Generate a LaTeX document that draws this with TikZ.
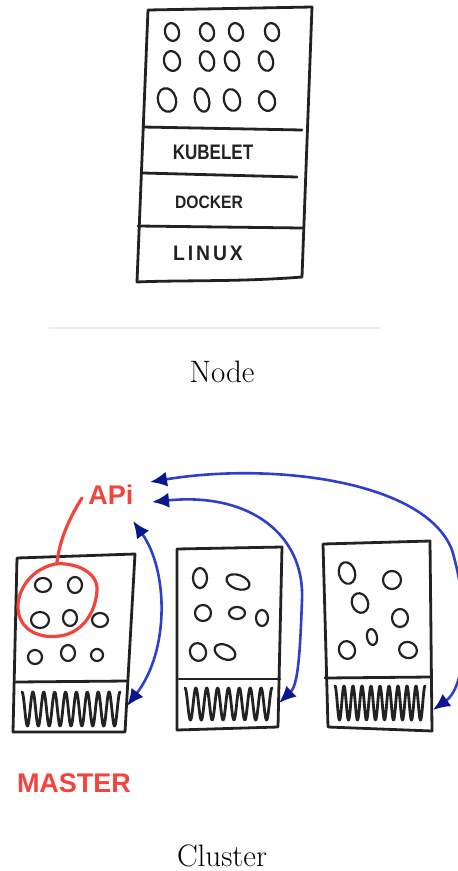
\documentclass[tikz,border=0pt]{standalone}
\usepackage{fontspec}
\newfontfamily\handfont{Liberation Sans}
\usetikzlibrary{arrows.meta}

\definecolor{ink}{HTML}{222222}
\definecolor{marker}{HTML}{F2433D}
\definecolor{wire}{HTML}{2E3FCC}
\definecolor{wirehead}{HTML}{0B178F}

% zig-zag scribble: x0, x1, y middle, amplitude, cycles (degrees), samples
\newcommand\scribble[6]{%
  \draw[hatch] plot[domain=0:#5, samples=#6, smooth]
    ({#1+(#2-#1)*(\x/#5)}, {#3-#4*cos(\x)});}

\begin{document}
\begin{tikzpicture}[x=1pt, y=-1pt, line cap=round, line join=round,
  pen/.style={draw=ink, line width=2.8pt},
  pod/.style={draw=ink, line width=2.2pt},
  hatch/.style={draw=ink, line width=2.8pt},
  hand/.style={text=ink, inner sep=0pt},
  redhand/.style={font=\handfont\bfseries\fontsize{27}{27}\selectfont, text=marker, inner sep=0pt},
  caption/.style={font=\fontsize{31}{31}\selectfont, text=black, inner sep=0pt},
  wire/.style={draw=wire, line width=2.6pt,
    {Latex[length=17pt,width=15pt,color=wirehead]}-{Latex[length=17pt,width=15pt,color=wirehead]}},
  redline/.style={draw=marker, line width=3.2pt}]
\useasboundingbox (0,0) rectangle (458,871);
\clip (0,0) rectangle (458,871);

% ---------- single node ----------
\draw[pen] (148,10) -- (312,7) -- (302,277) .. controls (240,282) and (180,280) .. (137,282) -- cycle;
\draw[pen] (143,127) -- (302,130);
\draw[pen] (143,173) -- (297,177);
\draw[pen] (138,226) -- (302,228);

% pods
\foreach \px/\py/\rx/\ry in {172/32/7/9, 207/32/7/9, 236/32/7/9, 272/32/7/9,
                             172/61/8/10, 207/61/7/10, 232/61/7/10, 266/61/7/10,
                             167/100/9/12, 202/100/7/12, 232/100/8/11, 267/101/8/10}
  \draw[pod] (\px,\py) ellipse [x radius=\rx pt, y radius=\ry pt, rotate=15];

\node[hand] (kubelet) at (213,152)
  {\scalebox{0.81}[1]{\handfont\bfseries\fontsize{21}{21}\selectfont KUBELET}};
\node[hand] (docker) at (209,202)
  {\scalebox{0.87}[1]{\handfont\bfseries\fontsize{18}{18}\selectfont DOCKER}};
\node[hand] (linux) at (208,253)
  {\scalebox{0.92}[1]{\handfont\bfseries\fontsize{21}{21}\selectfont\addfontfeature{LetterSpace=15}LINUX}};

% faint table edge
\draw[draw=black!8, line width=1.2pt] (49,328) -- (380,328);

\node[caption] (nodecap) at (222,372) {Node};

% ---------- cluster ----------
% master
\draw[pen] (17,558) -- (135,554) -- (125,732) -- (13,732) -- cycle;
\draw[pen] (16,682) -- (127,681);
% worker 1
\draw[pen] (177,549) -- (282,547) -- (278,727) -- (177,730) -- cycle;
\draw[pen] (179,679) -- (280,679);
% worker 2
\draw[pen] (323,544) -- (430,541) -- (432,731) -- (328,727) -- cycle;
\draw[pen] (325,678) -- (431,677);

% pods on the master
\foreach \px/\py/\rx/\ry/\rt in {43/585/8/7/0, 75/585/7/8/0, 40/620/9/8/0, 70/618/7/8/0,
                                 100/620/8/7/0, 35/657/7/7/0, 68/653/7/8/0, 97/655/6/6/0}
  \draw[pod] (\px,\py) ellipse [x radius=\rx pt, y radius=\ry pt, rotate=\rt];
% pods on worker 1
\foreach \px/\py/\rx/\ry/\rt in {200/578/7/10/0, 238/582/12/7/-20, 203/613/8/8/0,
                                 237/613/8/6/0, 262/618/6/8/0, 198/652/8/9/20, 225/652/11/7/-25}
  \draw[pod] (\px,\py) ellipse [x radius=\rx pt, y radius=\ry pt, rotate=\rt];
% pods on worker 2
\foreach \px/\py/\rx/\ry/\rt in {347/573/8/11/15, 392/580/9/9/0, 360/603/8/10/20,
                                 400/618/8/9/0, 372/637/5/8/10, 347/650/8/9/20, 408/650/9/8/-20}
  \draw[pod] (\px,\py) ellipse [x radius=\rx pt, y radius=\ry pt, rotate=\rt];

% scribbled bottom layers
\scribble{22}{120}{709}{17}{3240}{216}
\scribble{185}{272}{704}{16}{2880}{192}
\scribble{335}{425}{703}{17}{3600}{240}

% api label and control-plane group
\node[redhand] (api) at (111,495) {APi};
\node[redhand] (master) at (74,783) {MASTER};
\draw[redline] (82,498) .. controls (68,520) and (60,540) .. (57,562);
\draw[redline] (55,564) .. controls (75,562) and (98,572) .. (97,590)
  .. controls (96,610) and (85,628) .. (68,634)
  .. controls (50,640) and (25,636) .. (19,615)
  .. controls (14,595) and (28,570) .. (55,564);

% connections to the api
\coordinate (apiA) at (133,521);
\coordinate (apiB) at (152,502);
\coordinate (apiC) at (150,482);
\coordinate (portA) at (127,706);
\coordinate (portB) at (279,703);
\coordinate (portC) at (433,710);
\draw[wire] (portA) .. controls (170,650) and (168,570) .. (apiA);
\draw[wire] (apiB) .. controls (250,492) and (305,535) .. (302,600)
  .. controls (300,655) and (298,685) .. (portB);
\draw[wire] (apiC) .. controls (270,462) and (425,480) .. (452,550)
  .. controls (470,610) and (468,685) .. (portC);

\node[caption] (clustercap) at (222,856) {Cluster};
\end{tikzpicture}
\end{document}
